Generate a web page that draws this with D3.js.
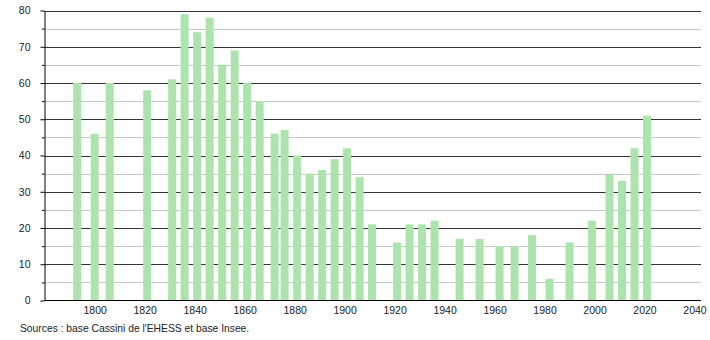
<!DOCTYPE html>
<html>
<head>
<meta charset="utf-8">
<script src="https://cdn.jsdelivr.net/npm/d3@7"></script>
<style>
  body { margin: 0; background: #fff; }
  svg text { font-family: 'Liberation Sans', Arial, sans-serif; }
</style>
</head>
<body>
<div class="chart"></div>
<script>
const years = [1793, 1800, 1806, 1821, 1831, 1836, 1841, 1846, 1851, 1856, 1861, 1866, 1872, 1876,
  1881, 1886, 1891, 1896, 1901, 1906, 1911, 1921, 1926, 1931, 1936, 1946, 1954, 1962, 1968,
  1975, 1982, 1990, 1999, 2006, 2011, 2016, 2021];
const population = [60, 46, 60, 58, 61, 79, 74, 78, 65, 69, 60, 55, 46, 47,
  40, 35, 36, 39, 42, 34, 21, 16, 21, 21, 22, 17, 17, 15, 15,
  18, 6, 16, 22, 35, 33, 42, 51];
const xTicks = [1800, 1820, 1840, 1860, 1880, 1900, 1920, 1940, 1960, 1980, 2000, 2020, 2040];
const yTicks = [0, 10, 20, 30, 40, 50, 60, 70, 80];
const sourceText = "Sources : base Cassini de l'EHESS et base Insee.";

const width = 710;
const height = 340;
const plotLeft = 44.5;
const plotRight = 701;
const plotTop = 10.5;
const plotBottom = 300.5;

const svg = d3
  .select('.chart')
  .append('svg')
  .attr('width', width)
  .attr('height', height);

const x = d3.scaleLinear().domain([1780, 2040]).range([44.7, 694.5]);
const y = d3.scaleLinear().domain([0, 80]).range([plotBottom, plotTop]);

// minor grid every 5, major every 10
const minor = d3.range(5, 80, 10);
svg
  .selectAll('.minor')
  .data(minor)
  .enter()
  .append('line')
  .attr('x1', plotLeft)
  .attr('x2', plotRight)
  .attr('y1', d => Math.round(y(d)) + 0.5)
  .attr('y2', d => Math.round(y(d)) + 0.5)
  .attr('stroke', '#c8c8c8');

svg
  .selectAll('.major')
  .data(yTicks.filter(d => d > 0))
  .enter()
  .append('line')
  .attr('x1', plotLeft)
  .attr('x2', plotRight)
  .attr('y1', d => Math.round(y(d)) + 0.5)
  .attr('y2', d => Math.round(y(d)) + 0.5)
  .attr('stroke', '#333');

// bars
svg
  .selectAll('.bar')
  .data(years)
  .enter()
  .append('rect')
  .attr('class', 'bar')
  .attr('x', d => x(d) - 4)
  .attr('width', 8)
  .attr('y', (d, i) => y(population[i]))
  .attr('height', (d, i) => plotBottom - y(population[i]))
  .attr('fill', '#ade4ad');

// y axis
const yAxis = d3
  .axisLeft(y)
  .tickValues(d3.range(0, 81, 5))
  .tickSize(0)
  .tickFormat(d => (d % 10 === 0 ? d : ''));
const gy = svg
  .append('g')
  .attr('transform', `translate(${plotLeft},0)`)
  .call(yAxis);
gy.select('.domain').attr('stroke', '#000');
gy.selectAll('.tick line')
  .attr('x2', d => (d % 10 === 0 ? -4 : -2.5))
  .attr('stroke', '#000');
gy.selectAll('.tick text')
  .attr('x', -14)
  .attr('font-size', 10.5)
  .attr('fill', '#222');

// x axis
const xAxis = d3
  .axisBottom(x)
  .tickValues(xTicks)
  .tickSize(0)
  .tickFormat(d3.format('d'));
const gx = svg
  .append('g')
  .attr('transform', `translate(0,${plotBottom})`)
  .call(xAxis);
gx.select('.domain').attr('d', `M${plotLeft},0H${plotRight}`).attr('stroke', '#000');
gx.selectAll('.tick text')
  .attr('y', 6)
  .attr('font-size', 10.5)
  .attr('fill', '#222');

svg
  .append('text')
  .attr('x', 20)
  .attr('y', 332)
  .attr('font-size', 10.3)
  .attr('fill', '#222')
  .text(sourceText);
</script>
</body>
</html>
